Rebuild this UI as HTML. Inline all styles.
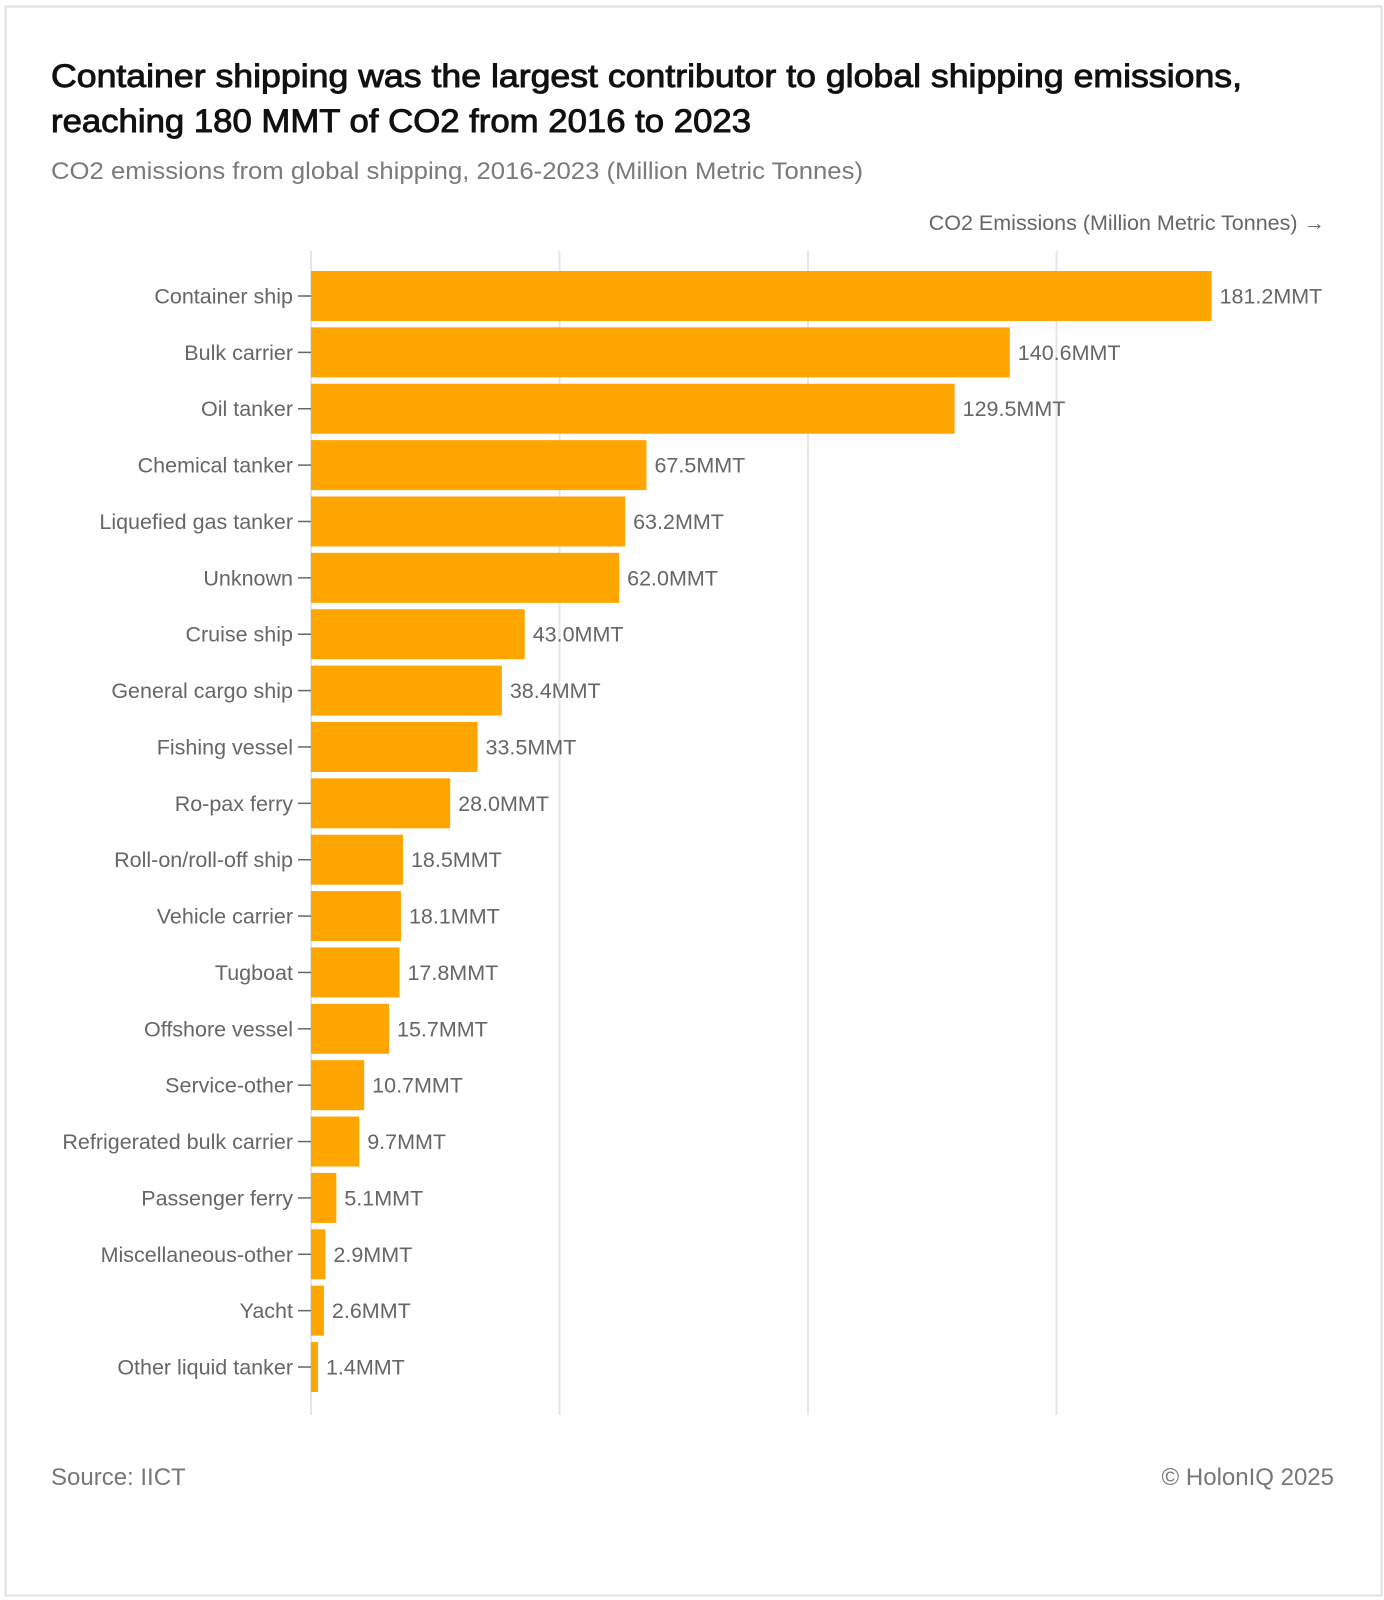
<!DOCTYPE html>
<html><head><meta charset="utf-8"><style>
html,body{margin:0;padding:0;background:#fff;}
svg{display:block;font-family:"Liberation Sans",sans-serif;}
</style></head><body>
<svg id="chart" width="1384" height="1600" viewBox="0 0 1384 1600">
<rect x="5.5" y="6.5" width="1376" height="1589" fill="#fff" stroke="#e0e0e0" stroke-width="2"/>
<text x="51" y="87" font-size="32" font-weight="normal" fill="#111" stroke="#111" stroke-width="0.9" textLength="1191" lengthAdjust="spacingAndGlyphs">Container shipping was the largest contributor to global shipping emissions,</text>
<text x="51" y="132" font-size="32" font-weight="normal" fill="#111" stroke="#111" stroke-width="0.9" textLength="700" lengthAdjust="spacingAndGlyphs">reaching 180 MMT of CO2 from 2016 to 2023</text>
<text x="51" y="179" font-size="24" fill="#7a7a7a" textLength="812" lengthAdjust="spacingAndGlyphs">CO2 emissions from global shipping, 2016-2023 (Million Metric Tonnes)</text>
<text x="1325" y="230" font-size="21.5" fill="#666" text-anchor="end">CO2 Emissions (Million Metric Tonnes) →</text>
<g id="grid"></g>
<g id="bars"></g>
<text x="51" y="1485" font-size="24" fill="#777">Source: IICT</text>
<text x="1334" y="1485" font-size="24" fill="#777" text-anchor="end">© HolonIQ 2025</text>
</svg>
<script>
const categories = ["Container ship","Bulk carrier","Oil tanker","Chemical tanker","Liquefied gas tanker","Unknown","Cruise ship","General cargo ship","Fishing vessel","Ro-pax ferry","Roll-on/roll-off ship","Vehicle carrier","Tugboat","Offshore vessel","Service-other","Refrigerated bulk carrier","Passenger ferry","Miscellaneous-other","Yacht","Other liquid tanker"];
const values = [181.2,140.6,129.5,67.5,63.2,62.0,43.0,38.4,33.5,28.0,18.5,18.1,17.8,15.7,10.7,9.7,5.1,2.9,2.6,1.4];
const gridTicks = [0,50,100,150];
const NS="http://www.w3.org/2000/svg";
const x0=311, pxPer=4.97, rowTop=271, step=56.37, barH=50, gridTop=251, gridBot=1415;
function xs(v){return x0+v*pxPer;}
function yc(i){return rowTop+i*step+barH/2;}
function mk(tag,attrs,parent){const e=document.createElementNS(NS,tag);for(const k in attrs)e.setAttribute(k,attrs[k]);parent.appendChild(e);return e;}
const grid=document.getElementById('grid'), bars=document.getElementById('bars');
gridTicks.forEach(t=>{
  const l=mk('line',{x1:xs(t),x2:xs(t),y1:gridTop,y2:gridBot,stroke:'#e6e6e6','stroke-width':2},grid);
  
  
});
categories.forEach((c,i)=>{
  const v=values[i], y=yc(i);
  const r=mk('rect',{x:x0,y:y-barH/2,width:Math.max(0,xs(v)-x0),height:barH,fill:'#FFA500'},bars);
  
  
  const tk=mk('line',{x1:x0-13,x2:x0,y1:y,y2:y,stroke:'#666','stroke-width':1.5},bars);
  
  
  const lb=mk('text',{x:x0-18,y:y+7.5,'font-size':21.5,fill:'#666','text-anchor':'end'},bars);
  lb.textContent=c;
  
  
  const vl=mk('text',{x:xs(v)+8,y:y+7.5,'font-size':21.5,fill:'#666'},bars);
  vl.textContent=v.toFixed(1)+'MMT';
  
  
});
</script>
</body></html>
